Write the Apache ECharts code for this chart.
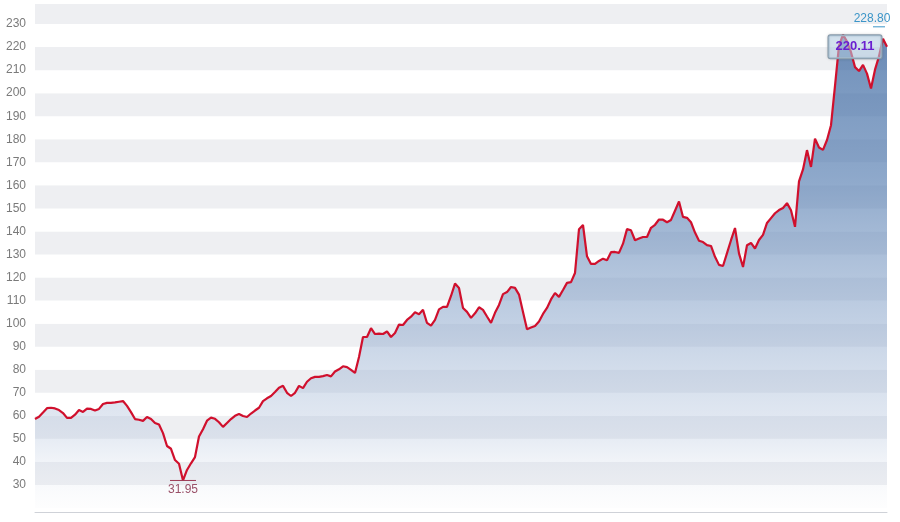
<!DOCTYPE html>
<html>
<head>
<meta charset="utf-8">
<script src="https://cdn.jsdelivr.net/npm/echarts@6/dist/echarts.min.js"></script>
<style>
  html, body { margin: 0; padding: 0; background: #fff; }
  #chart { width: 900px; height: 522px; }
</style>
</head>
<body>
<div id="chart"></div>
<script>
// closing prices, one per week
const closeValues = [
  58.6, 59.6, 61.4, 63.3, 63.5, 63.2, 62.5, 61.2, 59.1, 59.1,
  60.5, 62.5, 61.7, 63.1, 63.0, 62.3, 63.0, 65.1, 65.6, 65.6,
  65.8, 66.1, 66.4, 64.3, 61.6, 58.6, 58.3, 57.8, 59.5, 58.6,
  56.9, 56.2, 52.5, 46.9, 45.7, 40.8, 39.2, 31.95, 36.5, 39.4,
  42.1, 51.0, 54.2, 57.9, 59.2, 58.7, 57.2, 55.2, 56.9, 58.6,
  60.0, 60.8, 59.9, 59.5, 61.0, 62.3, 63.5, 66.4, 67.6, 68.6,
  70.3, 72.2, 73.0, 70.0, 68.6, 70.0, 73.0, 72.0, 74.8, 76.3,
  76.9, 76.9, 77.2, 77.7, 77.1, 79.2, 80.2, 81.5, 81.1, 79.9,
  78.6, 85.5, 94.2, 94.2, 98.0, 95.5, 95.7, 95.5, 96.6, 94.2,
  95.9, 99.6, 99.4, 101.6, 103.0, 104.9, 104.1, 106.0, 100.3, 99.1,
  101.6, 106.2, 107.3, 107.3, 112.0, 117.4, 115.5, 106.8, 105.1, 102.5,
  104.5, 107.1, 106.0, 103.1, 100.3, 104.7, 108.1, 112.8, 113.7, 115.9,
  115.5, 112.6, 105.0, 97.6, 98.3, 99.0, 100.9, 104.2, 106.8, 110.5,
  113.3, 111.6, 114.6, 117.7, 118.0, 122.0, 141.0, 142.8, 129.2, 125.9,
  125.9, 127.2, 128.2, 127.5, 131.0, 131.1, 130.7, 134.7, 141.0, 140.5,
  136.2, 136.9, 137.6, 137.6, 141.6, 142.9, 145.2, 145.1, 144.0, 145.0,
  149.0, 153.0, 146.3, 145.9, 144.0, 139.5, 136.0, 135.4, 134.1, 133.7,
  129.0, 125.5, 125.0, 130.6, 136.2, 141.5, 130.5, 124.6, 134.0, 135.0,
  132.6, 136.3, 138.5, 143.7, 145.8, 147.9, 149.3, 150.2, 152.3, 149.2,
  142.0, 161.7, 166.9, 175.3, 168.0, 180.3, 176.4, 175.4, 179.7, 186.1,
  203.2, 220.6, 225.4, 222.4, 217.8, 211.3, 209.6, 212.3, 208.5, 202.0,
  210.2, 216.0, 223.6, 220.11
]

// week labels (not shown on the axis)
const weekLabels = []
const start = new Date(2016, 0, 4)
for (let i = 0; i < closeValues.length; i++) {
  const d = new Date(start.getTime() + i * 7 * 86400000)
  weekLabels.push(d.toISOString().slice(0, 10))
}

// annotations
const lowValue = 31.95
const lowIndex = 37
const highValue = 228.80
const highIndex = 211
const lastValue = 220.11
const lastIndex = closeValues.length - 1

const chart = echarts.init(document.getElementById('chart'))

const labelFont = 'Liberation Sans, Arial, sans-serif'

const option = {
  animation: false,
  grid: {
    left: 35,
    right: 13,
    top: 4,
    bottom: 14,
  },
  xAxis: {
    type: 'category',
    boundaryGap: false,
    data: weekLabels,
    offset: 4,
    axisLine: {
      lineStyle: { color: '#cfd2d8', width: 1 },
    },
    axisTick: { show: false },
    axisLabel: { show: false },
    splitLine: { show: false },
  },
  yAxis: {
    type: 'value',
    min: 20,
    max: 238.7,
    interval: 10,
    axisLine: { show: false },
    axisTick: { show: false },
    splitLine: { show: false },
    splitArea: {
      show: true,
      areaStyle: {
        color: ['#ffffff', '#eeeff2'],
      },
    },
    axisLabel: {
      color: '#7a7a7a',
      fontSize: 12,
      fontFamily: labelFont,
      margin: 9,
      showMinLabel: false,
      showMaxLabel: false,
    },
  },
  series: [
    {
      type: 'line',
      data: closeValues,
      symbol: 'none',
      smooth: false,
      lineStyle: {
        color: '#d0102d',
        width: 2.2,
      },
      areaStyle: {
        color: new echarts.graphic.LinearGradient(0, 0, 0, 1, [
          { offset: 0, color: 'rgba(50, 96, 156, 1)' },
          { offset: 0.3, color: 'rgba(84, 124, 176, 0.95)' },
          { offset: 0.6, color: 'rgba(136, 164, 202, 0.75)' },
          { offset: 0.85, color: 'rgba(182, 198, 222, 0.5)' },
          { offset: 1, color: 'rgba(228, 232, 240, 0.1)' },
        ]),
      },
      markPoint: {
        silent: true,
        data: [
          {
            coord: [lowIndex, lowValue],
            symbol: 'rect',
            symbolSize: [26, 1],
            itemStyle: { color: '#9c3a55' },
            label: {
              show: true,
              position: 'bottom',
              distance: 3,
              formatter: lowValue.toFixed(2),
              color: '#9a5068',
              fontSize: 12,
              fontFamily: labelFont,
            },
          },
          {
            coord: [highIndex, highValue],
            symbol: 'rect',
            symbolSize: [12, 1],
            itemStyle: { color: '#3b95c8' },
            label: {
              show: true,
              position: 'top',
              distance: 2,
              offset: [-7, 0],
              formatter: highValue.toFixed(2),
              color: '#3b95c8',
              fontSize: 12,
              fontFamily: labelFont,
            },
          },
          {
            coord: [lastIndex, lastValue],
            symbol: 'circle',
            symbolSize: 1,
            itemStyle: { color: 'rgba(0,0,0,0)' },
            label: {
              show: true,
              position: 'inside',
              offset: [-32, 0],
              formatter: lastValue.toFixed(2),
              color: '#6a1fd0',
              fontWeight: 'bold',
              fontSize: 13,
              fontFamily: labelFont,
              backgroundColor: 'rgba(190, 216, 238, 0.55)',
              borderColor: '#8c9fae',
              borderWidth: 1,
              borderRadius: 2,
              padding: [5, 7],
              shadowColor: 'rgba(0,0,0,0.15)',
              shadowBlur: 3,
            },
          },
        ],
      },
    },
  ],
}

chart.setOption(option)
</script>
</body>
</html>
